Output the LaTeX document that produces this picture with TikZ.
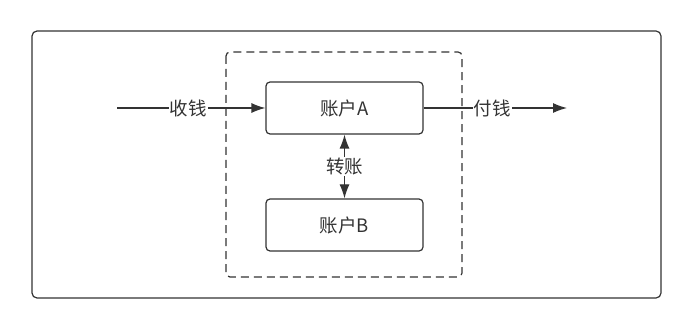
\documentclass[tikz,border=0pt]{standalone}
\usepackage{fontspec}
\setmainfont{Noto Sans CJK SC}
\usetikzlibrary{arrows.meta,positioning}
\definecolor{ink}{HTML}{333333}

\begin{document}
\begin{tikzpicture}[x=1pt,y=-1pt,>={Latex[length=14pt,width=10pt]},
  font=\fontsize{18.5}{22}\selectfont,line width=1.2pt,color=ink,
  acct/.style={draw,rounded corners=4pt,minimum width=157pt,minimum height=52pt},
  lbl/.style={fill=white,inner sep=1pt}]
\useasboundingbox (0,0) rectangle (693,331);
% frame and group
\draw[rounded corners=5pt] (32,31) rectangle (661,298);
\draw[dash pattern=on 8pt off 5pt,rounded corners=4pt] (226,52) rectangle (462,277);
% accounts
\node[acct] (a) at (344.5,108) {账户A};
\node[acct] (b) at (344.5,225) {账户B};
\coordinate (in) at (117,108);
\coordinate (out) at (567,108);
% money flows
\draw[->] (in) -- node[lbl,pos=0.48]{收钱} (a.west);
\draw[->] (a.east) -- node[lbl,pos=0.48]{付钱} (out);
\draw[<->] (a) -- node[lbl]{转账} (b);
\end{tikzpicture}
\end{document}
